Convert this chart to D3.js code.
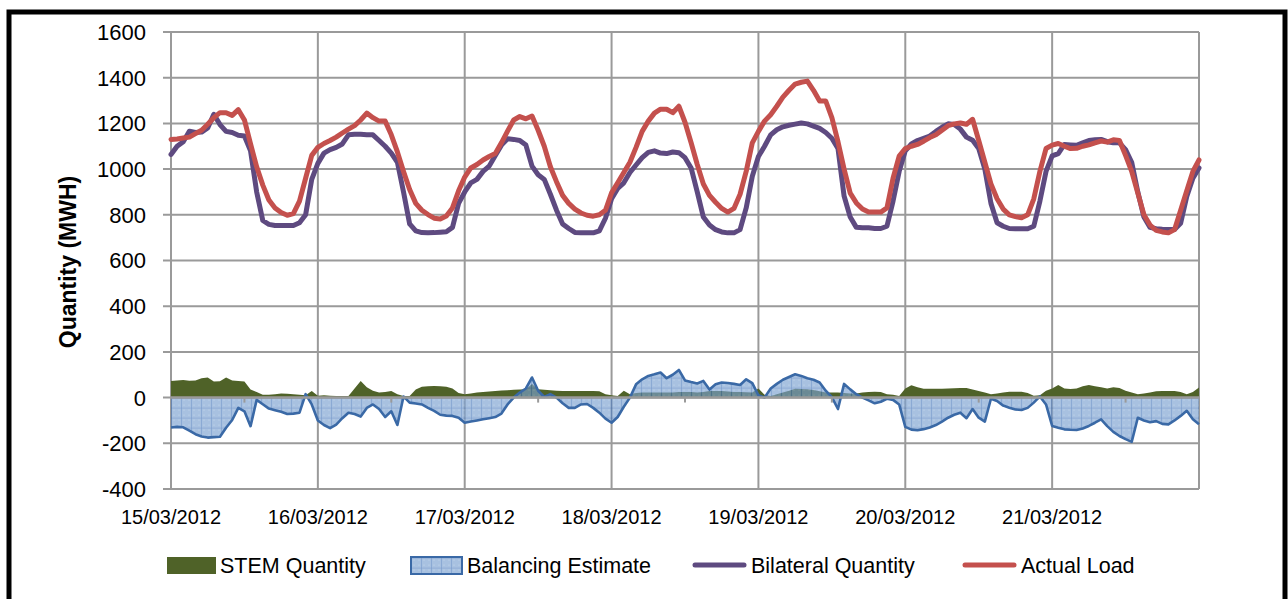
<!DOCTYPE html>
<html><head><meta charset="utf-8">
<script src="https://cdn.jsdelivr.net/npm/d3@7"></script>
<style>
body{margin:0;background:#fff;}
svg{display:block;font-family:"Liberation Sans",Arial,sans-serif;}
</style>
</head><body>
<svg id="chart" width="1288" height="599"></svg>
<script>
// ---------- DATA (hourly, 15/03/2012 00:00 -> 22/03/2012 00:00) ----------
const startDate = new Date(2012, 2, 15);
const yTickValues = [-400, -200, 0, 200, 400, 600, 800, 1000, 1200, 1400, 1600];
const seriesNames = ["STEM Quantity", "Balancing Estimate", "Bilateral Quantity", "Actual Load"];

const stemQuantity = [
  73,75,77,74,75,85,88,70,72,88,75,73,70,35,25,12,12,15,18,17,15,12,10,29,
  8,10,8,7,7,7,40,73,45,30,22,25,29,15,7,7,35,48,50,51,50,48,40,20,
  15,18,22,24,27,29,31,32,34,35,36,60,36,34,32,30,29,29,29,29,29,29,28,15,
  10,7,30,15,20,22,22,22,22,22,22,24,25,24,22,24,29,29,29,27,25,24,23,22,
  40,12,7,15,22,30,39,38,36,33,28,22,22,22,20,18,18,22,25,26,25,15,12,7,
  40,54,45,39,39,39,39,40,41,42,42,35,29,22,15,18,22,26,26,26,20,8,10,30,
  40,55,40,38,40,50,55,50,45,40,45,42,30,22,15,18,22,28,29,29,29,25,15,25,
  44
];
const balancingEstimate = [
  -131,-128,-130,-145,-160,-170,-175,-173,-171,-132,-98,-45,-60,-125,-10,-29,-48,-55,-62,-72,-70,-66,15,-30,
  -100,-120,-134,-118,-90,-66,-72,-83,-45,-30,-50,-85,-60,-120,5,-22,-26,-30,-45,-58,-75,-79,-80,-88,
  -110,-105,-100,-95,-90,-85,-70,-30,0,22,40,88,30,3,15,0,-25,-45,-45,-30,-28,-45,-66,-92,
  -110,-85,-40,0,58,80,95,102,110,85,100,121,75,68,62,73,35,58,66,64,60,55,80,63,
  10,0,40,60,78,90,102,95,85,78,66,30,2,-50,60,36,15,0,-12,-25,-18,-5,-10,-30,
  -128,-140,-143,-138,-131,-120,-105,-88,-75,-66,-90,-50,-88,-105,-5,-15,-35,-44,-52,-54,-45,-22,5,-30,
  -124,-132,-139,-141,-142,-135,-124,-110,-95,-125,-150,-168,-182,-194,-88,-100,-108,-103,-115,-117,-100,-80,-58,-95,
  -117
];
const bilateralQuantity = [
  1064,1100,1120,1166,1160,1162,1180,1240,1195,1165,1160,1148,1145,1080,900,775,758,753,753,753,753,765,800,955,
  1025,1070,1085,1095,1110,1150,1152,1152,1150,1150,1125,1100,1070,1030,900,760,730,722,721,722,724,726,745,850,
  900,940,955,990,1013,1060,1105,1133,1130,1125,1105,1013,975,955,890,820,760,740,723,721,721,721,730,785,
  870,915,940,985,1018,1050,1073,1080,1070,1068,1075,1072,1050,1005,900,790,755,735,725,721,721,735,830,969,
  1055,1100,1150,1172,1185,1192,1197,1202,1198,1188,1178,1160,1135,1090,882,790,745,743,743,740,740,750,860,990,
  1080,1110,1125,1135,1145,1165,1183,1198,1195,1175,1140,1126,1090,1000,850,765,750,740,739,739,739,750,860,990,
  1058,1068,1108,1106,1104,1115,1125,1128,1130,1120,1115,1115,1085,1030,900,790,745,739,737,736,736,763,880,960,
  1005
];
const actualLoad = [
  1130,1132,1136,1140,1155,1170,1196,1225,1247,1247,1235,1260,1215,1110,1010,930,865,830,810,798,805,860,960,1060,
  1095,1112,1125,1140,1158,1175,1190,1215,1245,1225,1210,1210,1150,1075,990,911,850,820,801,785,782,795,830,905,
  965,1005,1020,1040,1055,1068,1115,1166,1215,1230,1220,1232,1170,1100,1010,945,885,850,825,808,798,794,800,820,
  896,940,985,1030,1095,1165,1210,1245,1262,1262,1247,1275,1205,1115,1020,935,885,855,828,812,828,890,990,1115,
  1165,1210,1238,1275,1315,1345,1372,1380,1385,1345,1298,1298,1225,1120,1000,895,852,825,812,812,812,830,960,1057,
  1090,1100,1108,1122,1138,1150,1170,1190,1198,1202,1196,1218,1125,1030,935,870,825,800,792,787,800,870,990,1090,
  1105,1112,1100,1090,1091,1100,1106,1115,1123,1118,1128,1125,1060,990,895,800,755,732,725,721,735,820,905,990,
  1040
];

// ---------- LAYOUT ----------
const svg = d3.select("#chart");
const L = 171, R = 1199, T = 32, B = 489;
const endDate = d3.timeDay.offset(startDate, 7);
const x = d3.scaleTime().domain([startDate, endDate]).range([L, R]);
const y = d3.scaleLinear().domain([-400, 1600]).range([B, T]);
const tAt = i => d3.timeHour.offset(startDate, i);

const gridColor = "#9a9a9a";
const cGreen = "#4F6228", cBlueStroke = "#3A69A6", cPurple = "#5E4A80", cRed = "#C4504D";

// pattern for Balancing Estimate
const defs = svg.append("defs");
const pat = defs.append("pattern").attr("id", "hatch")
  .attr("patternUnits", "userSpaceOnUse")
  .attr("x", L).attr("y", y(0)).attr("width", 10).attr("height", 10);
pat.append("rect").attr("width", 10).attr("height", 10).attr("fill", "#7AA0D0");
pat.append("path").attr("d", "M0,0 H10 M0,0 V10").attr("stroke", "#2F64B0").attr("stroke-width", 1.2);
pat.append("path").attr("d", "M2.5,2.5h1M7.5,7.5h1M2.5,7.5h1M7.5,2.5h1").attr("stroke", "#fff").attr("stroke-width", 1).attr("opacity", 0.35);

// frame
svg.append("rect").attr("x", 9).attr("y", 12).attr("width", 1276).attr("height", 640)
  .attr("fill", "none").attr("stroke", "#000").attr("stroke-width", 5);

// horizontal gridlines + y labels
const gy = svg.append("g");
yTickValues.forEach(v => {
  gy.append("line").attr("x1", L - 8).attr("x2", R).attr("y1", y(v)).attr("y2", y(v))
    .attr("stroke", gridColor).attr("stroke-width", 2);
  gy.append("text").attr("x", 146).attr("y", y(v)).attr("dy", "0.36em")
    .attr("text-anchor", "end").attr("font-size", 22).attr("fill", "#000").text(v);
});

// vertical gridlines + x labels
const days = d3.timeDay.range(startDate, endDate);
const fmt = d3.timeFormat("%d/%m/%Y");
const gx = svg.append("g");
days.concat([endDate]).forEach(d => {
  gx.append("line").attr("x1", x(d)).attr("x2", x(d)).attr("y1", T).attr("y2", B)
    .attr("stroke", gridColor).attr("stroke-width", 2);
});
days.forEach(d => {
  gx.append("text").attr("x", x(d)).attr("y", 524).attr("text-anchor", "middle")
    .attr("font-size", 20).attr("fill", "#000").text(fmt(d));
});

// y axis title
svg.append("text").attr("transform", `translate(76,${(172 + 352) / 2}) rotate(-90)`)
  .attr("text-anchor", "middle").attr("font-size", 23).attr("font-weight", "bold")
  .text("Quantity (MWH)");

// STEM area
const area = d3.area().x((d, i) => x(tAt(i))).y0(y(0)).y1(d => y(d));
svg.append("path").datum(stemQuantity).attr("d", area).attr("fill", cGreen);

// Balancing area
svg.append("path").datum(balancingEstimate).attr("d", area)
  .attr("fill", "url(#hatch)").attr("fill-opacity", 0.65);
const line = d3.line().x((d, i) => x(tAt(i))).y(d => y(d));
svg.append("path").datum(balancingEstimate).attr("d", line)
  .attr("fill", "none").attr("stroke", cBlueStroke).attr("stroke-width", 2.6).attr("stroke-linejoin", "round");

// zero axis line and ticks
svg.append("line").attr("x1", L).attr("x2", R).attr("y1", y(0)).attr("y2", y(0))
  .attr("stroke", gridColor).attr("stroke-width", 2.5);
days.forEach(d => {
  const m = d3.timeHour.offset(d, 12);
  svg.append("line").attr("x1", x(m)).attr("x2", x(m)).attr("y1", y(0)).attr("y2", y(0) + 5)
    .attr("stroke", gridColor).attr("stroke-width", 2);
});

// lines
svg.append("path").datum(bilateralQuantity).attr("d", line)
  .attr("fill", "none").attr("stroke", cPurple).attr("stroke-width", 5)
  .attr("stroke-linejoin", "round").attr("stroke-linecap", "round");
svg.append("path").datum(actualLoad).attr("d", line)
  .attr("fill", "none").attr("stroke", cRed).attr("stroke-width", 5)
  .attr("stroke-linejoin", "round").attr("stroke-linecap", "round");

// legend
const lg = svg.append("g").attr("font-size", 21.5);
const ly = 565;
lg.append("rect").attr("x", 167).attr("y", 557).attr("width", 49).attr("height", 17).attr("fill", cGreen);
lg.append("text").attr("x", 220).attr("y", ly).attr("dy", "0.36em").text(seriesNames[0]);
lg.append("rect").attr("x", 411).attr("y", 557).attr("width", 51).attr("height", 17)
  .attr("fill", "url(#hatch)").attr("fill-opacity", 0.65).attr("stroke", cBlueStroke).attr("stroke-width", 2);
lg.append("text").attr("x", 467).attr("y", ly).attr("dy", "0.36em").text(seriesNames[1]);
lg.append("line").attr("x1", 695).attr("x2", 744).attr("y1", ly).attr("y2", ly)
  .attr("stroke", cPurple).attr("stroke-width", 5).attr("stroke-linecap", "round");
lg.append("text").attr("x", 751).attr("y", ly).attr("dy", "0.36em").text(seriesNames[2]);
lg.append("line").attr("x1", 965).attr("x2", 1014).attr("y1", ly).attr("y2", ly)
  .attr("stroke", cRed).attr("stroke-width", 5).attr("stroke-linecap", "round");
lg.append("text").attr("x", 1021).attr("y", ly).attr("dy", "0.36em").text(seriesNames[3]);
</script>
</body></html>
